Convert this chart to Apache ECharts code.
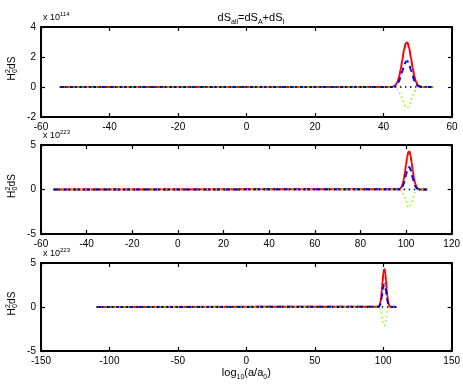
<!DOCTYPE html>
<html>
<head>
<meta charset="utf-8">
<script src="https://cdn.jsdelivr.net/npm/echarts@6/dist/echarts.min.js"></script>
<style>html,body{margin:0;padding:0;background:#fff;}#c{width:463px;height:386px;}</style>
</head>
<body>
<div id="c"></div>
<script>
// ---------- data ----------
// panel 1  (y in units of 10^114)
const x1 = [-54.5, 42.5, 43, 43.5, 44, 44.5, 45, 45.5, 46, 46.5, 47, 47.5, 48, 48.5, 49, 49.5, 50, 50.5, 51, 51.5, 54.5];
const red1 = [0, 0, 0.04, 0.12, 0.29, 0.63, 1.15, 1.82, 2.48, 2.92, 2.97, 2.60, 1.96, 1.28, 0.72, 0.35, 0.14, 0.05, 0.01, 0, 0];
const blue1 = [0, 0, 0.02, 0.07, 0.17, 0.37, 0.67, 1.06, 1.44, 1.69, 1.72, 1.51, 1.14, 0.74, 0.42, 0.20, 0.08, 0.03, 0.01, 0, 0];
const green1 = [0, 0, -0.02, -0.06, -0.13, -0.29, -0.53, -0.84, -1.14, -1.34, -1.38, -1.22, -0.92, -0.60, -0.34, -0.16, -0.06, -0.02, 0, 0, 0];
const zeroX1 = [-54.5, 54.5];
// panel 2  (y in units of 10^223)
const x2 = [-54.5, 97, 97.5, 98, 98.5, 99, 99.5, 100, 100.5, 101, 101.5, 102, 102.5, 103, 103.5, 104, 104.5, 105, 105.5, 106, 109.3];
const red2 = [0, 0.03, 0.11, 0.27, 0.58, 1.11, 1.88, 2.79, 3.65, 4.20, 4.26, 3.79, 2.98, 2.06, 1.25, 0.67, 0.32, 0.13, 0.05, 0.01, 0];
const blue2 = [0, 0.02, 0.06, 0.16, 0.34, 0.65, 1.11, 1.65, 2.15, 2.48, 2.51, 2.24, 1.76, 1.22, 0.74, 0.40, 0.19, 0.08, 0.03, 0.01, 0];
const green2 = [0, -0.01, -0.05, -0.13, -0.27, -0.52, -0.88, -1.31, -1.72, -1.97, -2.00, -1.78, -1.40, -0.97, -0.59, -0.31, -0.15, -0.06, -0.02, 0, 0];
const zeroX2 = [-54.5, 109.3];
// panel 3  (y in units of 10^223)
const x3 = [-109.3, 96.5, 97, 97.5, 98, 98.5, 99, 99.5, 100, 100.5, 101, 101.5, 102, 102.5, 103, 103.5, 104, 104.5, 105, 105.5, 109.6];
const red3 = [0, 0.03, 0.11, 0.27, 0.59, 1.12, 1.90, 2.82, 3.69, 4.24, 4.30, 3.83, 3.01, 2.08, 1.26, 0.68, 0.32, 0.13, 0.05, 0.01, 0];
const blue3 = [0, 0.02, 0.07, 0.16, 0.35, 0.67, 1.14, 1.69, 2.21, 2.54, 2.58, 2.30, 1.81, 1.25, 0.76, 0.41, 0.19, 0.08, 0.03, 0.01, 0];
const green3 = [0, -0.01, -0.05, -0.13, -0.29, -0.55, -0.93, -1.38, -1.81, -2.08, -2.11, -1.88, -1.47, -1.02, -0.62, -0.33, -0.16, -0.06, -0.02, 0, 0];
const zeroX3 = [-109.3, 109.6];
// axes
const xRanges = [[-60, 60, 20], [-60, 120, 20], [-150, 150, 50]];
const yRanges = [[-2, 4, 2], [-5, 5, 5], [-5, 5, 5]];
const exponents = ['114', '223', '223'];

// ---------- layout ----------
const FONT = 'Liberation Sans, Arial, sans-serif';
const grids = [
  { left: 41, top: 27, width: 411, height: 90 },
  { left: 41, top: 145, width: 411, height: 89 },
  { left: 41, top: 263, width: 411, height: 88 }
];

const zip = (xs, ys) => xs.map((x, i) => [x, ys[i]]);
const panels = [
  { x: x1, r: red1, b: blue1, g: green1, z: zeroX1 },
  { x: x2, r: red2, b: blue2, g: green2, z: zeroX2 },
  { x: x3, r: red3, b: blue3, g: green3, z: zeroX3 }
];

const xAxis = [], yAxis = [], series = [], graphic = [];
const lineAx = { show: true, onZero: false, lineStyle: { color: '#000', width: 2 } };
const tickAx = { show: true, inside: true, length: 4, lineStyle: { color: '#000', width: 1.2 } };
const labelAx = { color: '#000', fontSize: 10, fontFamily: FONT };
const txt = (size, extra) => Object.assign({ fontSize: size, fontFamily: FONT, color: '#000', fontWeight: 'normal' }, extra || {});

grids.forEach((g, i) => {
  const [xmin, xmax, xint] = xRanges[i];
  const [ymin, ymax, yint] = yRanges[i];
  const xa = {
    type: 'value', gridIndex: i, min: xmin, max: xmax, interval: xint,
    axisLine: lineAx, axisTick: tickAx, splitLine: { show: false },
    axisLabel: Object.assign({ margin: 5 }, labelAx)
  };
  if (i === 2) {
    xa.name = '{a|log}{s|10}{a|(a/a}{s|0}{a|)}';
    xa.nameLocation = 'middle';
    xa.nameGap = 14;
    xa.nameTextStyle = {
      rich: {
        a: txt(11, { lineHeight: 16 }),
        s: txt(7, { lineHeight: 8, verticalAlign: 'bottom' })
      }
    };
  }
  xAxis.push(xa);
  xAxis.push({
    type: 'value', gridIndex: i, position: 'top', min: xmin, max: xmax, interval: xint,
    axisLine: lineAx, axisTick: tickAx, axisLabel: { show: false }, splitLine: { show: false }
  });
  yAxis.push({
    type: 'value', gridIndex: i, min: ymin, max: ymax, interval: yint,
    axisLine: lineAx, axisTick: tickAx, splitLine: { show: false },
    axisLabel: Object.assign({ margin: 5 }, labelAx),
    name: '{a|x 10}{b|' + exponents[i] + '}',
    nameLocation: 'end', nameGap: 2,
    nameTextStyle: {
      align: 'left', verticalAlign: 'bottom', padding: [0, 0, 0, 2],
      rich: {
        a: txt(9, { lineHeight: 14 }),
        b: txt(6, { lineHeight: 7, verticalAlign: 'top' })
      }
    }
  });
  yAxis.push({
    type: 'value', gridIndex: i, position: 'right', min: ymin, max: ymax, interval: yint,
    axisLine: lineAx, axisTick: tickAx, axisLabel: { show: false }, splitLine: { show: false }
  });

  const p = panels[i];
  const base = { type: 'line', xAxisIndex: 2 * i, yAxisIndex: 2 * i, showSymbol: false, symbol: 'none', animation: false, silent: true, smooth: 0.35, smoothMonotone: 'x' };
  series.push(Object.assign({}, base, { data: zip(p.x, p.r), lineStyle: { color: '#ff0000', width: 2 }, z: 2 }));
  series.push(Object.assign({}, base, { data: zip(p.x, p.b), lineStyle: { color: '#0000ff', width: 2, type: [6, 4] }, z: 3 }));
  series.push(Object.assign({}, base, { data: zip(p.x, p.g), lineStyle: { color: '#7fff00', width: 1.5, type: [1.5, 3] }, z: 4 }));
  series.push(Object.assign({}, base, { data: zip(p.z, p.z.map(() => 0)), lineStyle: { color: '#000', width: 1.5, type: [1.5, 3.5] }, z: 5 }));

  // y-axis label  H_0^2 dS (rotated)
  graphic.push({
    type: 'group', x: 12, y: g.top + g.height / 2 - 3.5, rotation: Math.PI / 2,
    children: [
      { type: 'text', x: -12, y: 0, style: { text: 'H', fontSize: 10, fontFamily: FONT, fill: '#000', verticalAlign: 'middle', align: 'left' } },
      { type: 'text', x: -4.6, y: -3.5, style: { text: '2', fontSize: 7, fontFamily: FONT, fill: '#000', verticalAlign: 'middle', align: 'left' } },
      { type: 'text', x: -4.6, y: 3.5, style: { text: '0', fontSize: 7, fontFamily: FONT, fill: '#000', verticalAlign: 'middle', align: 'left' } },
      { type: 'text', x: -0.4, y: 0, style: { text: 'dS', fontSize: 10, fontFamily: FONT, fill: '#000', verticalAlign: 'middle', align: 'left' } }
    ]
  });
});

const chart = echarts.init(document.getElementById('c'), null, { renderer: 'canvas' });
chart.setOption({
  animation: false,
  backgroundColor: '#fff',
  title: {
    text: '{a|dS}{s|all}{a|=dS}{s|A}{a|+dS}{s|I}',
    left: 246, top: 5, textAlign: 'center',
    textStyle: {
      fontWeight: 'normal',
      rich: {
        a: txt(11, { lineHeight: 16 }),
        s: txt(7, { lineHeight: 8, verticalAlign: 'bottom' })
      }
    }
  },
  grid: grids,
  xAxis: xAxis,
  yAxis: yAxis,
  series: series,
  graphic: graphic
});
</script>
</body>
</html>
